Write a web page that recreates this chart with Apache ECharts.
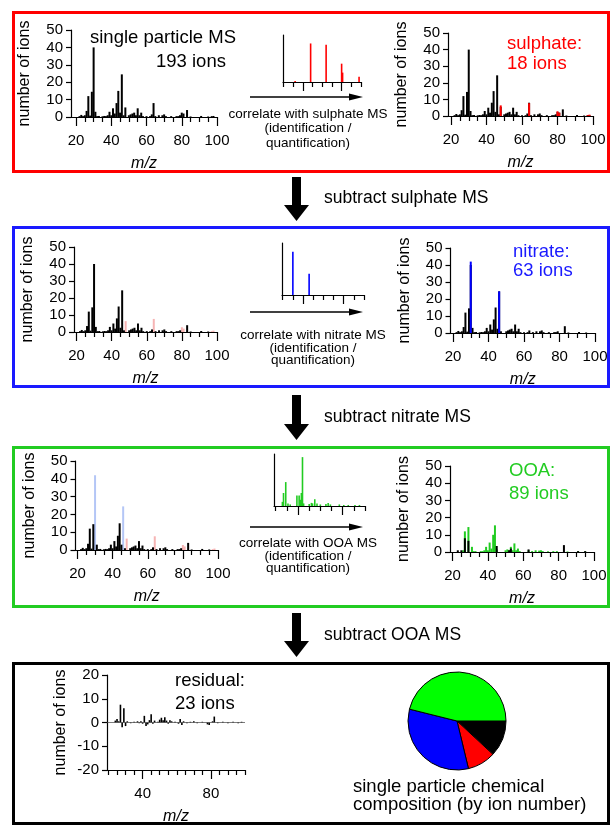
<!DOCTYPE html>
<html><head><meta charset="utf-8">
<script src="https://cdn.jsdelivr.net/npm/echarts@6/dist/echarts.min.js"></script>
<style>html,body{margin:0;padding:0;background:#fff}#c{width:612px;height:827px}</style>
</head><body><div id="c"></div>
<script>
// ---------------- data ----------------
const totalMz   = [22,23,24,25,26,27,28,29,30,31,32,33, 35,36,37,38,39,40,41,42,43,44,45,46,47,48, 50,51,52,53,54,55,56,57,58, 60,62,63,64,65, 67,69,70,71, 74,77,78,79,80,81, 83,85, 91,95,97,98];
const totalIons = [0.5,1.2,0.5,1,3.5,12,0.8,14.5,40,3,0.5,0.6, 0.4,0.6,0.5,1,3,1,5,2,8,15,2.5,24.5,1,5.5, 1,1.5,2,2.5,1,5,1,2.5,0.5, 0.5,0.5,1.5,8,0.5, 1,1,1.5,0.5, 0.5,0.5,0.5,1,2.5,2, 4,0.3, 0.6,0.3,0.5,0.6];

const sulphateMz   = [48,64,80,81,97,98];
const sulphateIons = [6.4,7.7,2.8,2,0.5,0.8];

const afterSulphateMz   = [22,23,24,25,26,27,28,29,30,31,32,33, 35,36,37,38,39,40,41,42,43,44,45,46,47, 50,51,52,53,54,55,56,57,58, 60,62,63,65, 67,69,70,71, 74,77,78,79, 83,85, 91,95];
const afterSulphateIons = [0.5,1.2,0.5,1,3.5,12,0.8,14.5,40,3,0.5,0.6, 0.4,0.6,0.5,1,3,1,5,2,8,15,2.5,24.5,1, 1,1.5,2,2.5,1,5,1,2.5,0.5, 0.5,0.5,1.5,0.5, 1,1,1.5,0.5, 0.5,0.5,0.5,1, 4,0.3, 0.6,0.3];

const nitrateMz   = [30,46];
const nitrateIons = [42,24.5];

const afterNitrateMz   = [22,23,24,25,26,27,28,29,31,32,33, 35,36,37,38,39,40,41,42,43,44,45,47, 50,51,52,53,54,55,56,57,58, 60,62,63,65, 67,69,70,71, 74,77,78,79, 83,85, 91,95];
const afterNitrateIons = [0.5,1.2,0.5,1,3.5,12,0.8,14.5,3,0.5,0.6, 0.4,0.6,0.5,1,3,1,5,2,8,15,3,1, 1,1.5,2,2.5,1,5,1,2.5,0.5, 0.5,0.5,1.5,0.5, 1,1,1.5,0.5, 0.5,0.5,0.5,1, 4,0.3, 0.6,0.3];

const ooaFitMz   = [26,27,29,31,32,33, 36,37,38,39,40,41,42,43,44,45, 50,51,52,53,54,55,56,57,58, 63,65,67,69,70,71, 74,77,79, 85,91,95];
const ooaFitIons = [1,12,14.5,3,0.5,0.5, 0.5,0.5,1,3,1,5.5,2,10,15.5,1.5, 1,1.5,1,3,1,5,1,2,0.5, 1,0.5,1,0.8,1,0.5, 0.4,0.5,0.5, 0.3,0.4,0.3];

const residPosMz   = [23,25,27,29,45,52,53,63,83,91,95];
const residPosIons = [1,1,8,6.5,3.5,1,2,1.5,4,0.5,0.5];

const residMz   = [24,25,26,27,28,29,30,31, 33,35,37,38,39,40,41,42,43,44,45,46,47, 49,50,51,52,53,54,55,56,57, 59,61,62,63,64,66,68,70,72, 75,78,79,81,82,84,87,90,93,96,98];
const residIons = [0.8,1.5,0.5,7.5,-2,6,-1.5,0.5, -0.3,0.3,0.5,-0.3,0.5,-0.5,2.8,-1.5,-0.8,1,3.5,-0.5,0.8, 0.3,1.2,2,1,2.2,0.8,-0.5,1,0.5, 0.3,-0.5,1.5,-1,0.5,-0.3,0.3,0.5,-0.3, 0.3,-0.8,-1,0.5,2.5,-0.3,0.3,-0.3,0.3,-0.3,0.3];

// reference mass spectra (relative) used in the small insets
const sulphateRefMz  = [32,48,64,80,81,98];
const sulphateRefRel = [0.02,0.82,0.79,0.39,0.2,0.11];
const nitrateRefMz   = [30,46];
const nitrateRefRel  = [0.83,0.41];
const ooaRefMz  = [26,27,29,31,33, 39,41,42,43,44,45, 50,52,53,55,57, 60,65,67,69, 77,81,85,91,95];
const ooaRefRel = [0.08,0.25,0.46,0.05,0.03, 0.2,0.2,0.12,0.25,0.94,0.05, 0.04,0.06,0.05,0.13,0.05, 0.03,0.04,0.06,0.03, 0.03,0.02,0.02,0.02,0.02];

// pie (ion numbers)
const pieNames = ['residual','sulphate','nitrate','OOA'];
const pieIons  = [23,18,63,89];

// ticks
const xLabelTicks = [20,40,60,80,100];
const xMinorTicks = [25,30,35,45,50,55,65,70,75,85,90,95];
const insetMajorTicks = [40,80];
const insetMinorTicks = [20,30,50,60,70,90,100];
const residLabelTicks = [40,80];
const residMinorTicks = [20,25,30,35,45,50,55,60,65,70,75,85,90,95,100];

// ---------------- build ----------------
const FF = '"Liberation Sans", Arial, sans-serif';
const C = {red:'#ff0000', blue:'#0000ff', green:'#22cc22', black:'#000000',
           paleRed:'#f6b4b4', paleBlue:'#b4c6f6', boxBlue:'#1a1aff', boxGreen:'#22cc22'};
const grids=[], xAxes=[], yAxes=[], series=[];
const pairs = (a,b)=>a.map((m,i)=>[m,b[i]]);

function addPlot(p){
  const gi = grids.length;
  const pxPer = (p.x100 - p.x20)/80;
  const xmin = 20 - (p.x20 - p.gx)/pxPer;
  grids.push({left:p.gx, top:p.yTop, width:p.x100 - p.gx, height:p.y0 - p.yTop});
  const lineStyle = {color:'#000', width:1.2};
  xAxes.push({gridIndex:gi, type:'value', min:xmin, max:100, position:'bottom',
    axisLine:{show:true, onZero:false, lineStyle},
    axisTick:{show:true, customValues:p.major, length:9, lineStyle},
    axisLabel:p.labels ? {show:true, customValues:p.labels, fontSize:15, fontFamily:FF, color:'#000', margin:16} : {show:false},
    splitLine:{show:false},
    name:p.inset ? '' : 'm/z', nameLocation:'middle', nameGap:39,
    nameTextStyle:{fontSize:16, fontFamily:FF, fontStyle:'italic', color:'#000'}
  });
  xAxes.push({gridIndex:gi, type:'value', min:xmin, max:100, position:'bottom',
    axisLine:{show:false, onZero:false},
    axisTick:{show:true, customValues:p.minor, length:5, lineStyle},
    axisLabel:{show:false}, splitLine:{show:false}});
  yAxes.push({gridIndex:gi, type:'value', min:p.ymin, max:p.ymax, interval:p.inset?undefined:10,
    axisLine:{show:true, onZero:false, lineStyle},
    axisTick:{show:!p.inset, length:5, lineStyle},
    axisLabel:{show:!p.inset, fontSize:15, fontFamily:FF, color:'#000', margin:8},
    splitLine:{show:false},
    name:p.inset ? '' : 'number of ions', nameLocation:'middle', nameGap:p.nameGap||38,
    nameTextStyle:{fontSize:16, fontFamily:FF, color:'#000'}
  });
  return {x:xAxes.length-2, y:yAxes.length-1};
}
function addBars(ax, mz, vals, color, w){
  series.push({type:'bar', xAxisIndex:ax.x, yAxisIndex:ax.y, data:pairs(mz,vals),
    barWidth:w||2, barGap:'-100%', itemStyle:{color}, silent:true, animation:false});
}
const mainTicks = {major:xLabelTicks, minor:xMinorTicks, labels:xLabelTicks, ymin:0, ymax:50};
const insetTicks = {major:insetMajorTicks, minor:insetMinorTicks, labels:null, ymin:0, ymax:1, inset:true};

// panel 1
let a = addPlot(Object.assign({gx:71, x20:76, x100:217, yTop:30, y0:117}, mainTicks));
addBars(a, totalMz, totalIons, C.black);
a = addPlot(Object.assign({gx:283, x20:283.5, x100:361, yTop:35, y0:82}, insetTicks));
addBars(a, sulphateRefMz, sulphateRefRel, C.red, 1.6);
a = addPlot(Object.assign({gx:448, x20:451, x100:593, yTop:33, y0:116}, mainTicks));
addBars(a, totalMz, totalIons, C.black);
addBars(a, sulphateMz, sulphateIons, C.red);
// panel 2
a = addPlot(Object.assign({gx:74, x20:76.5, x100:217, yTop:247, y0:332}, mainTicks));
addBars(a, sulphateMz, sulphateIons, C.paleRed);
addBars(a, afterSulphateMz, afterSulphateIons, C.black);
a = addPlot(Object.assign({gx:282, x20:282.7, x100:364, yTop:243, y0:295}, insetTicks));
addBars(a, nitrateRefMz, nitrateRefRel, C.blue, 1.6);
a = addPlot(Object.assign({gx:450.5, x20:453, x100:595, yTop:248, y0:333}, mainTicks));
addBars(a, afterSulphateMz, afterSulphateIons, C.black);
addBars(a, nitrateMz, nitrateIons, C.blue);
// panel 3
a = addPlot(Object.assign({gx:75.5, x20:77.5, x100:218, yTop:461, y0:550}, mainTicks));
addBars(a, sulphateMz, sulphateIons, C.paleRed);
addBars(a, nitrateMz, nitrateIons, C.paleBlue);
addBars(a, afterNitrateMz, afterNitrateIons, C.black);
a = addPlot(Object.assign({gx:274, x20:275.7, x100:365, yTop:454, y0:506}, insetTicks));
addBars(a, ooaRefMz, ooaRefRel, C.green, 1.6);
a = addPlot(Object.assign({gx:450, x20:452.5, x100:594, yTop:466, y0:552}, mainTicks));
addBars(a, ooaFitMz, ooaFitIons, C.green);
addBars(a, residPosMz, residPosIons, C.black);
// panel 4 residual
a = addPlot({gx:107, x20:108.5, x100:245, yTop:675, y0:770, ymin:-20, ymax:20,
  major:residLabelTicks, minor:residMinorTicks, labels:residLabelTicks});
series.push({type:'bar', xAxisIndex:a.x, yAxisIndex:a.y, data:pairs(residMz,residIons),
  barWidth:1.6, barGap:'-100%', itemStyle:{color:'#000'}, silent:true, animation:false,
  markLine:{silent:true, symbol:'none', label:{show:false}, lineStyle:{color:'#444', width:0.7, type:'solid'}, data:[{yAxis:0}]}});

series.push({type:'pie', center:[457,721], radius:49, startAngle:0, clockwise:true, silent:true, animation:false,
  label:{show:false}, labelLine:{show:false}, itemStyle:{borderColor:'#000', borderWidth:1},
  data:pieNames.map((n,i)=>({name:n, value:pieIons[i], itemStyle:{color:['#000000','#ff0000','#0000ff','#00ff00'][i]}}))});

// ---------------- decorations ----------------
const G = [];
function box(y1,y2,color){ G.push({type:'rect', shape:{x:13.5, y:y1+1.5, width:595, height:y2-y1-3}, style:{fill:'none', stroke:color, lineWidth:3}}); }
box(11,173,'#ff0000'); box(226,388,C.boxBlue); box(446,608,C.boxGreen); box(662,825,'#000');
function blockArrow(top, bottom){
  const headTop = bottom-16;
  G.push({type:'polygon', shape:{points:[[292,top],[301,top],[301,headTop],[309,headTop],[296.5,bottom],[284,headTop],[292,headTop]]}, style:{fill:'#000'}});
}
blockArrow(177,221); blockArrow(395,440); blockArrow(613,657);
function thinArrow(y){
  G.push({type:'line', shape:{x1:250, y1:y, x2:352, y2:y}, style:{stroke:'#000', lineWidth:1.3}});
  G.push({type:'polygon', shape:{points:[[349,y-3.5],[363,y],[349,y+3.5]]}, style:{fill:'#000'}});
}
thinArrow(97); thinArrow(312); thinArrow(527);
function txt(s,x,y,size,color,align,italic){
  G.push({type:'text', style:{text:s, x, y, fill:color||'#000', font:(italic?'italic ':'')+size+'px '+FF,
    textAlign:align||'left', textVerticalAlign:'middle', align:align||'left', verticalAlign:'middle'}});
}
txt('single particle MS',90,38,18.5); txt('193 ions',156,62,18.5);
txt('sulphate:',507,44,18.5,'#ff0000'); txt('18 ions',507,64,18.5,'#ff0000');
txt('nitrate:',513,252,18.5,C.boxBlue); txt('63 ions',513,271,18.5,C.boxBlue);
txt('OOA:',509,471,18.5,C.boxGreen); txt('89 ions',509,494,18.5,C.boxGreen);
txt('residual:',175,681,18.5); txt('23 ions',175,704,18.5);
txt('subtract sulphate MS',324,198,17.5); txt('subtract nitrate MS',324,417,17.5); txt('subtract OOA MS',324,635,17.5);
[['correlate with sulphate MS',308,114],['(identification /',308,128],['quantification)',308,143],
 ['correlate with nitrate MS',313,335],['(identification /',313,348],['quantification)',313,360],
 ['correlate with OOA MS',308,543],['(identification /',308,556],['quantification)',308,568]]
 .forEach(t=>txt(t[0],t[1],t[2],13.5,'#000','center'));
txt('single particle chemical',353,787,18.5); txt('composition (by ion number)',353,805,18.5);

const chart = echarts.init(document.getElementById('c'), null, {renderer:'canvas'});
chart.setOption({animation:false, grid:grids, xAxis:xAxes, yAxis:yAxes, series, graphic:{elements:G}});
</script></body></html>
